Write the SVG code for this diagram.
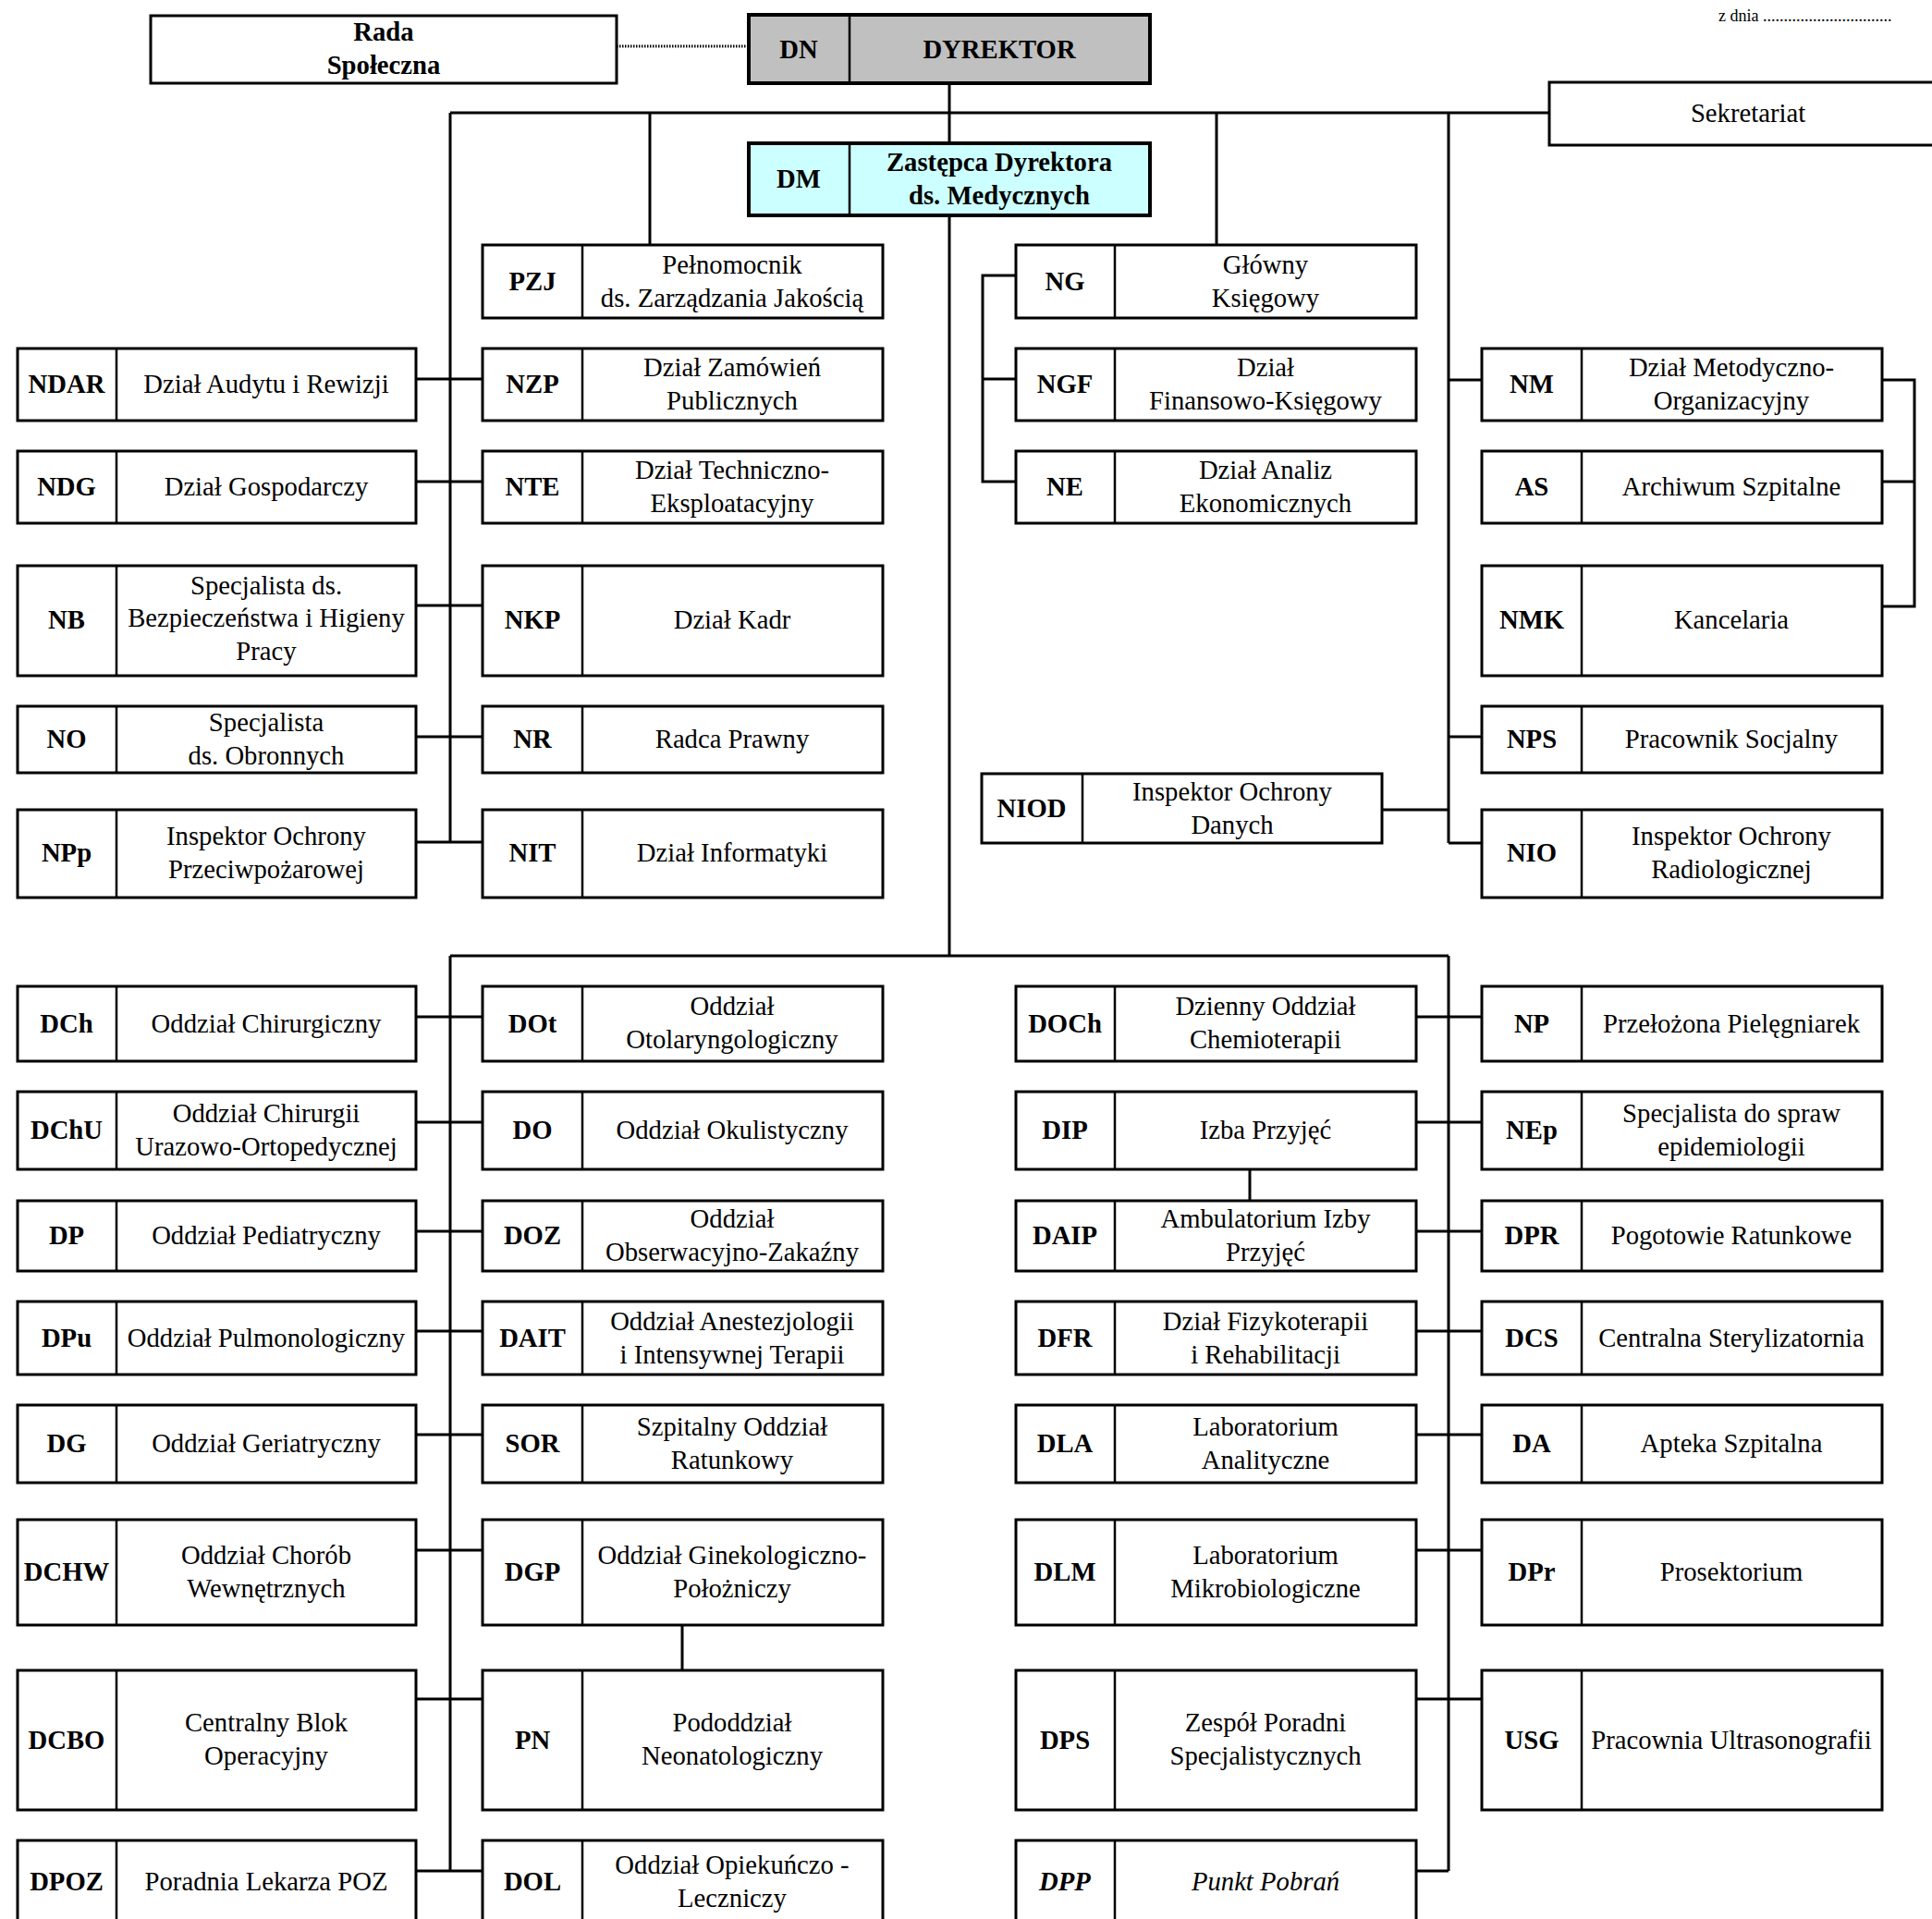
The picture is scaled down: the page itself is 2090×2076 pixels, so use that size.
<svg xmlns="http://www.w3.org/2000/svg" width="2090" height="2076" viewBox="0 0 2090 2076">
<style>
.box{fill:#fff;stroke:#000;stroke-width:3}
.dn{fill:#c0c0c0;stroke:#000;stroke-width:4}
.dm{fill:#ccffff;stroke:#000;stroke-width:4}
.sep{stroke:#000;stroke-width:2.5}
.ln{stroke:#000;stroke-width:3;fill:none}
.dot{stroke:#000;stroke-width:3;stroke-dasharray:1.5 1.5;fill:none}
text{font-family:"Liberation Serif","Times New Roman",serif;font-size:28.7px;text-anchor:middle;fill:#000}
.c{font-weight:bold}
.i{font-style:italic}
.small{font-size:18px;text-anchor:start}
</style>
<rect width="2090" height="2076" fill="#fff"/>
<text class="small" x="1859" y="23">z dnia ...............................</text>

<g id="connectors">
<line class="dot" x1="667" y1="50" x2="810" y2="50"/>
<line class="ln" x1="1027" y1="90" x2="1027" y2="155"/>
<line class="ln" x1="1027" y1="233" x2="1027" y2="1034"/>
<line class="ln" x1="487" y1="122" x2="1676" y2="122"/>
<line class="ln" x1="703" y1="122" x2="703" y2="265"/>
<line class="ln" x1="1316" y1="122" x2="1316" y2="265"/>
<line class="ln" x1="487" y1="122" x2="487" y2="911"/>
<line class="ln" x1="1567" y1="122" x2="1567" y2="912"/>
<line class="ln" x1="487" y1="1034" x2="1567" y2="1034"/>
<line class="ln" x1="487" y1="1034" x2="487" y2="2024"/>
<line class="ln" x1="1567" y1="1034" x2="1567" y2="2024"/>
<path class="ln" d="M450,410H522M450,521H522M450,655H522M450,797H522M450,911H522"/>
<path class="ln" d="M450,1100H522M450,1214H522M450,1332H522M450,1440H522M450,1552H522M450,1677H522M450,1838H522M450,2024H522"/>
<path class="ln" d="M1532,1100H1603M1532,1214H1603M1532,1332H1603M1532,1440H1603M1532,1552H1603M1532,1677H1603M1532,1838H1603M1532,2024H1567"/>
<path class="ln" d="M1567,411H1603M1567,797H1603M1567,912H1603M1495,876H1567"/>
<path class="ln" d="M1099,298H1063V521H1099M1063,410H1099"/>
<path class="ln" d="M2036,411H2071V656H2036M2036,521H2071"/>
<line class="ln" x1="1352" y1="1265" x2="1352" y2="1299"/>
<line class="ln" x1="738" y1="1758" x2="738" y2="1807"/>
</g>

<g id="rada"><rect class="box" x="163" y="17" width="504" height="73"/><text class="c" x="415" y="44">Rada</text><text class="c" x="415" y="80">Społeczna</text></g>
<g id="DN"><rect class="dn" x="810" y="16" width="434" height="74"/><line class="sep" x1="919" y1="16" x2="919" y2="90"/><text class="c" x="864" y="63">DN</text><text class="c" x="1081" y="63">DYREKTOR</text></g>
<g id="DM"><rect class="dm" x="810" y="155" width="434" height="78"/><line class="sep" x1="919" y1="155" x2="919" y2="233"/><text class="c" x="864" y="203">DM</text><text class="c" x="1081" y="185">Zastępca Dyrektora</text><text class="c" x="1081" y="221">ds. Medycznych</text></g>
<g id="sekretariat"><rect class="box" x="1676" y="89" width="440" height="68"/><text x="1891" y="132">Sekretariat</text></g>

<!-- top section -->
<g id="PZJ"><rect class="box" x="522" y="265" width="433" height="79"/><line class="sep" x1="630" y1="265" x2="630" y2="344"/><text class="c" x="576" y="314">PZJ</text><text x="792" y="296">Pełnomocnik</text><text x="792" y="332">ds. Zarządzania Jakością</text></g>
<g id="NDAR"><rect class="box" x="19" y="377" width="431" height="78"/><line class="sep" x1="126" y1="377" x2="126" y2="455"/><text class="c" x="72" y="425">NDAR</text><text x="288" y="425">Dział Audytu i Rewizji</text></g>
<g id="NZP"><rect class="box" x="522" y="377" width="433" height="78"/><line class="sep" x1="630" y1="377" x2="630" y2="455"/><text class="c" x="576" y="425">NZP</text><text x="792" y="407">Dział Zamówień</text><text x="792" y="443">Publicznych</text></g>
<g id="NG"><rect class="box" x="1099" y="265" width="433" height="79"/><line class="sep" x1="1206" y1="265" x2="1206" y2="344"/><text class="c" x="1152" y="314">NG</text><text x="1369" y="296">Główny</text><text x="1369" y="332">Księgowy</text></g>
<g id="NGF"><rect class="box" x="1099" y="377" width="433" height="78"/><line class="sep" x1="1206" y1="377" x2="1206" y2="455"/><text class="c" x="1152" y="425">NGF</text><text x="1369" y="407">Dział</text><text x="1369" y="443">Finansowo-Księgowy</text></g>
<g id="NM"><rect class="box" x="1603" y="377" width="433" height="78"/><line class="sep" x1="1711" y1="377" x2="1711" y2="455"/><text class="c" x="1657" y="425">NM</text><text x="1873" y="407">Dział Metodyczno-</text><text x="1873" y="443">Organizacyjny</text></g>

<g id="NDG"><rect class="box" x="19" y="488" width="431" height="78"/><line class="sep" x1="126" y1="488" x2="126" y2="566"/><text class="c" x="72" y="536">NDG</text><text x="288" y="536">Dział Gospodarczy</text></g>
<g id="NTE"><rect class="box" x="522" y="488" width="433" height="78"/><line class="sep" x1="630" y1="488" x2="630" y2="566"/><text class="c" x="576" y="536">NTE</text><text x="792" y="518">Dział Techniczno-</text><text x="792" y="554">Eksploatacyjny</text></g>
<g id="NE"><rect class="box" x="1099" y="488" width="433" height="78"/><line class="sep" x1="1206" y1="488" x2="1206" y2="566"/><text class="c" x="1152" y="536">NE</text><text x="1369" y="518">Dział Analiz</text><text x="1369" y="554">Ekonomicznych</text></g>
<g id="AS"><rect class="box" x="1603" y="488" width="433" height="78"/><line class="sep" x1="1711" y1="488" x2="1711" y2="566"/><text class="c" x="1657" y="536">AS</text><text x="1873" y="536">Archiwum Szpitalne</text></g>

<g id="NB"><rect class="box" x="19" y="612" width="431" height="119"/><line class="sep" x1="126" y1="612" x2="126" y2="731"/><text class="c" x="72" y="680">NB</text><text x="288" y="643">Specjalista ds.</text><text x="288" y="678">Bezpieczeństwa i Higieny</text><text x="288" y="714">Pracy</text></g>
<g id="NKP"><rect class="box" x="522" y="612" width="433" height="119"/><line class="sep" x1="630" y1="612" x2="630" y2="731"/><text class="c" x="576" y="680">NKP</text><text x="792" y="680">Dział Kadr</text></g>
<g id="NMK"><rect class="box" x="1603" y="612" width="433" height="119"/><line class="sep" x1="1711" y1="612" x2="1711" y2="731"/><text class="c" x="1657" y="680">NMK</text><text x="1873" y="680">Kancelaria</text></g>

<g id="NO"><rect class="box" x="19" y="764" width="431" height="72"/><line class="sep" x1="126" y1="764" x2="126" y2="836"/><text class="c" x="72" y="809">NO</text><text x="288" y="791">Specjalista</text><text x="288" y="827">ds. Obronnych</text></g>
<g id="NR"><rect class="box" x="522" y="764" width="433" height="72"/><line class="sep" x1="630" y1="764" x2="630" y2="836"/><text class="c" x="576" y="809">NR</text><text x="792" y="809">Radca Prawny</text></g>
<g id="NPS"><rect class="box" x="1603" y="764" width="433" height="72"/><line class="sep" x1="1711" y1="764" x2="1711" y2="836"/><text class="c" x="1657" y="809">NPS</text><text x="1873" y="809">Pracownik Socjalny</text></g>
<g id="NIOD"><rect class="box" x="1062" y="837" width="433" height="75"/><line class="sep" x1="1171" y1="837" x2="1171" y2="912"/><text class="c" x="1116" y="884">NIOD</text><text x="1333" y="866">Inspektor Ochrony</text><text x="1333" y="902">Danych</text></g>

<g id="NPp"><rect class="box" x="19" y="876" width="431" height="95"/><line class="sep" x1="126" y1="876" x2="126" y2="971"/><text class="c" x="72" y="932">NPp</text><text x="288" y="914">Inspektor Ochrony</text><text x="288" y="950">Przeciwpożarowej</text></g>
<g id="NIT"><rect class="box" x="522" y="876" width="433" height="95"/><line class="sep" x1="630" y1="876" x2="630" y2="971"/><text class="c" x="576" y="932">NIT</text><text x="792" y="932">Dział Informatyki</text></g>
<g id="NIO"><rect class="box" x="1603" y="876" width="433" height="95"/><line class="sep" x1="1711" y1="876" x2="1711" y2="971"/><text class="c" x="1657" y="932">NIO</text><text x="1873" y="914">Inspektor Ochrony</text><text x="1873" y="950">Radiologicznej</text></g>

<!-- bottom row 1: 1067-1148 cy 1107.5 -->
<g id="DCh"><rect class="box" x="19" y="1067" width="431" height="81"/><line class="sep" x1="126" y1="1067" x2="126" y2="1148"/><text class="c" x="72" y="1117">DCh</text><text x="288" y="1117">Oddział Chirurgiczny</text></g>
<g id="DOt"><rect class="box" x="522" y="1067" width="433" height="81"/><line class="sep" x1="630" y1="1067" x2="630" y2="1148"/><text class="c" x="576" y="1117">DOt</text><text x="792" y="1098">Oddział</text><text x="792" y="1134">Otolaryngologiczny</text></g>
<g id="DOCh"><rect class="box" x="1099" y="1067" width="433" height="81"/><line class="sep" x1="1206" y1="1067" x2="1206" y2="1148"/><text class="c" x="1152" y="1117">DOCh</text><text x="1369" y="1098">Dzienny Oddział</text><text x="1369" y="1134">Chemioterapii</text></g>
<g id="NP"><rect class="box" x="1603" y="1067" width="433" height="81"/><line class="sep" x1="1711" y1="1067" x2="1711" y2="1148"/><text class="c" x="1657" y="1117">NP</text><text x="1873" y="1117">Przełożona Pielęgniarek</text></g>

<!-- row 2: 1181-1265 cy 1223 -->
<g id="DChU"><rect class="box" x="19" y="1181" width="431" height="84"/><line class="sep" x1="126" y1="1181" x2="126" y2="1265"/><text class="c" x="72" y="1232">DChU</text><text x="288" y="1214">Oddział Chirurgii</text><text x="288" y="1250">Urazowo-Ortopedycznej</text></g>
<g id="DO"><rect class="box" x="522" y="1181" width="433" height="84"/><line class="sep" x1="630" y1="1181" x2="630" y2="1265"/><text class="c" x="576" y="1232">DO</text><text x="792" y="1232">Oddział Okulistyczny</text></g>
<g id="DIP"><rect class="box" x="1099" y="1181" width="433" height="84"/><line class="sep" x1="1206" y1="1181" x2="1206" y2="1265"/><text class="c" x="1152" y="1232">DIP</text><text x="1369" y="1232">Izba Przyjęć</text></g>
<g id="NEp"><rect class="box" x="1603" y="1181" width="433" height="84"/><line class="sep" x1="1711" y1="1181" x2="1711" y2="1265"/><text class="c" x="1657" y="1232">NEp</text><text x="1873" y="1214">Specjalista do spraw</text><text x="1873" y="1250">epidemiologii</text></g>

<!-- row 3: 1299-1375 cy 1337 -->
<g id="DP"><rect class="box" x="19" y="1299" width="431" height="76"/><line class="sep" x1="126" y1="1299" x2="126" y2="1375"/><text class="c" x="72" y="1346">DP</text><text x="288" y="1346">Oddział Pediatryczny</text></g>
<g id="DOZ"><rect class="box" x="522" y="1299" width="433" height="76"/><line class="sep" x1="630" y1="1299" x2="630" y2="1375"/><text class="c" x="576" y="1346">DOZ</text><text x="792" y="1328">Oddział</text><text x="792" y="1364">Obserwacyjno-Zakaźny</text></g>
<g id="DAIP"><rect class="box" x="1099" y="1299" width="433" height="76"/><line class="sep" x1="1206" y1="1299" x2="1206" y2="1375"/><text class="c" x="1152" y="1346">DAIP</text><text x="1369" y="1328">Ambulatorium Izby</text><text x="1369" y="1364">Przyjęć</text></g>
<g id="DPR"><rect class="box" x="1603" y="1299" width="433" height="76"/><line class="sep" x1="1711" y1="1299" x2="1711" y2="1375"/><text class="c" x="1657" y="1346">DPR</text><text x="1873" y="1346">Pogotowie Ratunkowe</text></g>

<!-- row 4: 1408-1487 cy 1447.5 -->
<g id="DPu"><rect class="box" x="19" y="1408" width="431" height="79"/><line class="sep" x1="126" y1="1408" x2="126" y2="1487"/><text class="c" x="72" y="1457">DPu</text><text x="288" y="1457">Oddział Pulmonologiczny</text></g>
<g id="DAIT"><rect class="box" x="522" y="1408" width="433" height="79"/><line class="sep" x1="630" y1="1408" x2="630" y2="1487"/><text class="c" x="576" y="1457">DAIT</text><text x="792" y="1439">Oddział Anestezjologii</text><text x="792" y="1475">i Intensywnej Terapii</text></g>
<g id="DFR"><rect class="box" x="1099" y="1408" width="433" height="79"/><line class="sep" x1="1206" y1="1408" x2="1206" y2="1487"/><text class="c" x="1152" y="1457">DFR</text><text x="1369" y="1439">Dział Fizykoterapii</text><text x="1369" y="1475">i Rehabilitacji</text></g>
<g id="DCS"><rect class="box" x="1603" y="1408" width="433" height="79"/><line class="sep" x1="1711" y1="1408" x2="1711" y2="1487"/><text class="c" x="1657" y="1457">DCS</text><text x="1873" y="1457">Centralna Sterylizatornia</text></g>

<!-- row 5: 1520-1604 cy 1562 -->
<g id="DG"><rect class="box" x="19" y="1520" width="431" height="84"/><line class="sep" x1="126" y1="1520" x2="126" y2="1604"/><text class="c" x="72" y="1571">DG</text><text x="288" y="1571">Oddział Geriatryczny</text></g>
<g id="SOR"><rect class="box" x="522" y="1520" width="433" height="84"/><line class="sep" x1="630" y1="1520" x2="630" y2="1604"/><text class="c" x="576" y="1571">SOR</text><text x="792" y="1553">Szpitalny Oddział</text><text x="792" y="1589">Ratunkowy</text></g>
<g id="DLA"><rect class="box" x="1099" y="1520" width="433" height="84"/><line class="sep" x1="1206" y1="1520" x2="1206" y2="1604"/><text class="c" x="1152" y="1571">DLA</text><text x="1369" y="1553">Laboratorium</text><text x="1369" y="1589">Analityczne</text></g>
<g id="DA"><rect class="box" x="1603" y="1520" width="433" height="84"/><line class="sep" x1="1711" y1="1520" x2="1711" y2="1604"/><text class="c" x="1657" y="1571">DA</text><text x="1873" y="1571">Apteka Szpitalna</text></g>

<!-- row 6: 1644-1758 cy 1701 -->
<g id="DCHW"><rect class="box" x="19" y="1644" width="431" height="114"/><line class="sep" x1="126" y1="1644" x2="126" y2="1758"/><text class="c" x="72" y="1710">DCHW</text><text x="288" y="1692">Oddział Chorób</text><text x="288" y="1728">Wewnętrznych</text></g>
<g id="DGP"><rect class="box" x="522" y="1644" width="433" height="114"/><line class="sep" x1="630" y1="1644" x2="630" y2="1758"/><text class="c" x="576" y="1710">DGP</text><text x="792" y="1692">Oddział Ginekologiczno-</text><text x="792" y="1728">Położniczy</text></g>
<g id="DLM"><rect class="box" x="1099" y="1644" width="433" height="114"/><line class="sep" x1="1206" y1="1644" x2="1206" y2="1758"/><text class="c" x="1152" y="1710">DLM</text><text x="1369" y="1692">Laboratorium</text><text x="1369" y="1728">Mikrobiologiczne</text></g>
<g id="DPr"><rect class="box" x="1603" y="1644" width="433" height="114"/><line class="sep" x1="1711" y1="1644" x2="1711" y2="1758"/><text class="c" x="1657" y="1710">DPr</text><text x="1873" y="1710">Prosektorium</text></g>

<!-- row 7: 1807-1958 cy 1882.5 -->
<g id="DCBO"><rect class="box" x="19" y="1807" width="431" height="151"/><line class="sep" x1="126" y1="1807" x2="126" y2="1958"/><text class="c" x="72" y="1892">DCBO</text><text x="288" y="1873">Centralny Blok</text><text x="288" y="1909">Operacyjny</text></g>
<g id="PN"><rect class="box" x="522" y="1807" width="433" height="151"/><line class="sep" x1="630" y1="1807" x2="630" y2="1958"/><text class="c" x="576" y="1892">PN</text><text x="792" y="1873">Pododdział</text><text x="792" y="1909">Neonatologiczny</text></g>
<g id="DPS"><rect class="box" x="1099" y="1807" width="433" height="151"/><line class="sep" x1="1206" y1="1807" x2="1206" y2="1958"/><text class="c" x="1152" y="1892">DPS</text><text x="1369" y="1873">Zespół Poradni</text><text x="1369" y="1909">Specjalistycznych</text></g>
<g id="USG"><rect class="box" x="1603" y="1807" width="433" height="151"/><line class="sep" x1="1711" y1="1807" x2="1711" y2="1958"/><text class="c" x="1657" y="1892">USG</text><text x="1873" y="1892">Pracownia Ultrasonografii</text></g>

<!-- row 8: 1991-2081 cy 2036 -->
<g id="DPOZ"><rect class="box" x="19" y="1991" width="431" height="90"/><line class="sep" x1="126" y1="1991" x2="126" y2="2081"/><text class="c" x="72" y="2045">DPOZ</text><text x="288" y="2045">Poradnia Lekarza POZ</text></g>
<g id="DOL"><rect class="box" x="522" y="1991" width="433" height="90"/><line class="sep" x1="630" y1="1991" x2="630" y2="2081"/><text class="c" x="576" y="2045">DOL</text><text x="792" y="2027">Oddział Opiekuńczo -</text><text x="792" y="2063">Leczniczy</text></g>
<g id="DPP"><rect class="box" x="1099" y="1991" width="433" height="90"/><line class="sep" x1="1206" y1="1991" x2="1206" y2="2081"/><text class="c i" x="1152" y="2045">DPP</text><text class="i" x="1369" y="2045">Punkt Pobrań</text></g>
</svg>
